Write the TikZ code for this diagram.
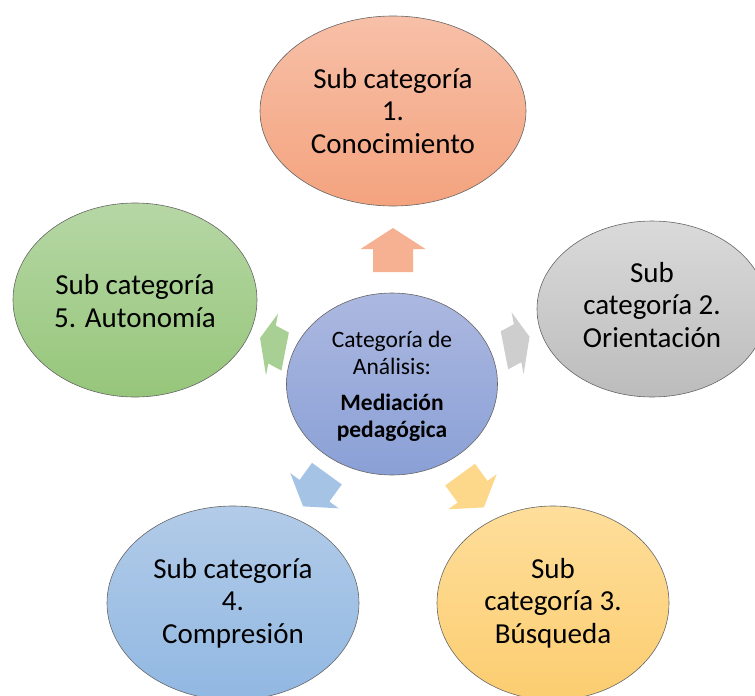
\documentclass[tikz,border=0pt]{standalone}
\usepackage{fontspec}
\setmainfont{Carlito}
\usetikzlibrary{shapes.geometric}
\definecolor{salT}{RGB}{247,192,168}
\definecolor{salB}{RGB}{244,163,126}
\definecolor{gryT}{RGB}{218,218,218}
\definecolor{gryB}{RGB}{188,188,188}
\definecolor{grnT}{RGB}{182,215,165}
\definecolor{grnB}{RGB}{150,198,122}
\definecolor{bluT}{RGB}{178,203,232}
\definecolor{bluB}{RGB}{145,184,226}
\definecolor{orgT}{RGB}{254,222,155}
\definecolor{orgB}{RGB}{252,205,112}
\definecolor{cenT}{RGB}{172,184,224}
\definecolor{cenB}{RGB}{138,160,214}
\begin{document}
\begin{tikzpicture}[x=1pt,y=1pt,
  bub/.style={ellipse, draw=black!60, line width=0.6pt, inner sep=0pt, outer sep=0pt},
  bubtext/.style={align=center, inner sep=0pt, font=\fontsize{29}{32.5}\selectfont},
  centext/.style={align=center, inner sep=0pt, font=\fontsize{23.5}{27}\selectfont}]
\useasboundingbox (0,0) rectangle (755,-696);
\clip (0,0) rectangle (755,-696);
% outer ellipses
\node[bub, top color=salT, bottom color=salB, minimum width=266, minimum height=190] (n1) at (393,-111) {};
\node[bubtext] (t1) at (n1.center) {Sub categoría\\1.\\Conocimiento};
\node[bub, top color=gryT, bottom color=gryB, minimum width=230, minimum height=176] (n2) at (652,-309) {};
\node[bubtext] (t2) at (652,-305) {Sub\\categoría 2.\\Orientación};
\node[bub, top color=orgT, bottom color=orgB, minimum width=232, minimum height=194] (n3) at (553,-603) {};
\node[bubtext] (t3) at (n3.center) {Sub\\categoría 3.\\Búsqueda};
\node[bub, top color=bluT, bottom color=bluB, minimum width=252, minimum height=194] (n4) at (233,-603) {};
\node[bubtext] (t4) at (n4.center) {Sub categoría\\4.\\Compresión};
\node[bub, top color=grnT, bottom color=grnB, minimum width=244, minimum height=194] (n5) at (135,-300) {};
\node[bubtext] (t5) at (135,-301) {Sub categoría\\5. Autonomía};
% center
\node[bub, top color=cenT, bottom color=cenB, minimum width=211, minimum height=182] (c) at (392,-384) {};
\node[centext] (ct) at (392,-386) {Categoría de\\Análisis:\\[9pt]\textbf{Mediación}\\\textbf{pedagógica}};
% arrows
\def\arrowpath{(22,0) -- (1,32.5) -- (1,20) -- (-22,20) -- (-22,-20) -- (1,-20) -- (1,-32.5) -- cycle}
\begin{scope}[shift={(393,-250)}, rotate=90]
  \fill[salT!50!salB] \arrowpath;
\end{scope}
\begin{scope}[shift={(517,-343.5)}, xscale=0.6, yscale=1.0, rotate=18]
  \fill[gryT!60!gryB] \arrowpath;
\end{scope}
\begin{scope}[shift={(272.6,-344.8)}, xscale=0.6, yscale=1.0, rotate=162]
  \fill[grnT!60!grnB] \arrowpath;
\end{scope}
\begin{scope}[shift={(315,-490)}, xscale=0.92, yscale=0.92, rotate=-126]
  \fill[bluT!60!bluB] \arrowpath;
\end{scope}
\begin{scope}[shift={(472,-491)}, xscale=0.92, yscale=0.92, rotate=-54]
  \fill[orgT!60!orgB] \arrowpath;
\end{scope}
\end{tikzpicture}
\end{document}
